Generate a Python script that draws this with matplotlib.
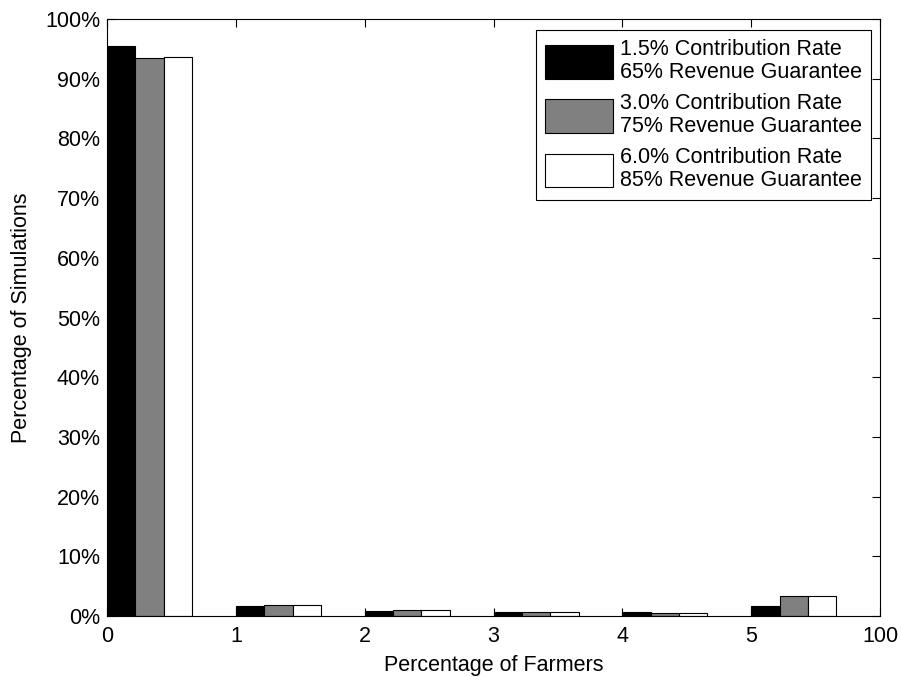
import numpy as np
import matplotlib
matplotlib.use("Agg")
import matplotlib.pyplot as plt
from matplotlib.ticker import FuncFormatter

plt.rcParams['font.family'] = ['Liberation Sans', 'DejaVu Sans']

# Data
categories = ['0', '1', '2', '3', '4', '5', '100']
series_labels = ['1.5% Contribution Rate\n65% Revenue Guarantee',
                 '3.0% Contribution Rate\n75% Revenue Guarantee',
                 '6.0% Contribution Rate\n85% Revenue Guarantee']
low = [95.5, 1.7, 0.8, 0.6, 0.6, 1.7]
mid = [93.5, 1.9, 1.0, 0.75, 0.5, 3.3]
high = [93.7, 1.9, 1.0, 0.75, 0.5, 3.3]
colors = ['black', '#808080', 'white']

FS = 15.5

fig = plt.figure(figsize=(9.01, 6.77), dpi=100)
ax = fig.add_axes([0.1188, 0.0901, 0.8579, 0.8818])

width = 0.22
x = np.arange(len(low))
for i, (vals, c, lab) in enumerate(zip([low, mid, high], colors, series_labels)):
    ax.bar(x + width * (i + 0.5), vals, width=width, color=c, edgecolor='black',
           linewidth=0.8, label=lab, align='center')

ax.set_xlim(0, 6)
ax.set_ylim(0, 100)
ax.set_xticks(np.arange(len(categories)))
ax.set_xticklabels(categories)
ax.set_yticks(np.arange(0, 101, 10))
ax.yaxis.set_major_formatter(FuncFormatter(lambda v, p: f'{v:.0f}%'))
ax.tick_params(direction='in', top=True, right=True, labelsize=FS, length=6)
ax.tick_params(axis='x', pad=7)
ax.tick_params(axis='y', pad=5)
for s in ax.spines.values():
    s.set_linewidth(0.8)

ax.set_xlabel('Percentage of Farmers', fontsize=FS, labelpad=6)
ax.set_ylabel('Percentage of Simulations', fontsize=FS, labelpad=9)

leg = ax.legend(loc='upper right', fontsize=FS, handlelength=3.15, handleheight=2.0,
                bbox_to_anchor=(871 / 901, 1 - 30 / 677), bbox_transform=fig.transFigure,
                borderaxespad=0, fancybox=False, framealpha=1, edgecolor='black',
                labelspacing=0.45, handletextpad=0.35, borderpad=0.4)
leg.get_frame().set_linewidth(0.8)
for t in leg.get_texts():
    t.set_linespacing(1.15)

fig.savefig('out.png', dpi=100)
